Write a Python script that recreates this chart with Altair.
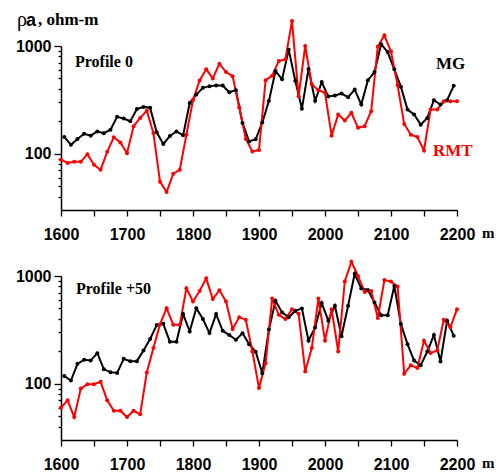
import altair as alt
import pandas as pd

# sample positions (m)
x_mg = list(range(1605, 2200, 10))
x_rmt = list(range(1600, 2201, 10))

# Profile 0
top_mg = [143, 121, 137, 153, 147, 161, 155, 167, 220, 212,
          200, 260, 272, 267, 158, 123, 146, 161, 148, 296,
          354, 409, 424, 430, 430, 372, 389, 193, 130, 136,
          195, 308, 585, 490, 925, 475, 262, 610, 310, 462,
          340, 347, 362, 335, 394, 286, 482, 573, 1040, 879,
          607, 419, 257, 231, 186, 215, 314, 286, 314, 427]
top_rmt = [88, 82, 84, 84, 99, 79, 71, 104, 142, 127,
           101, 180, 215, 251, 156, 55, 44, 65, 71, 150,
           315, 478, 607, 500, 685, 573, 525, 270, 137, 105,
           108, 482, 530, 725, 755, 1711, 342, 1000, 440, 389,
           368, 147, 231, 203, 240, 174, 180, 248, 987, 1258,
           887, 431, 189, 150, 143, 107, 257, 257, 307, 307, 307]

# Profile +50
bot_mg = [118, 107, 153, 167, 164, 192, 136, 128, 126, 170,
          162, 162, 203, 260, 350, 360, 245, 245, 443, 306,
          503, 398, 295, 443, 310, 283, 256, 294, 233, 198,
          125, 318, 589, 459, 413, 475, 500, 251, 333, 560,
          385, 529, 276, 529, 1050, 766, 742, 567, 433, 433,
          807, 358, 233, 164, 148, 199, 283, 161, 385, 279]
bot_rmt = [60, 70, 49, 90, 99, 99, 104, 70, 56, 56,
           49, 56, 52, 127, 215, 355, 503, 353, 353, 769,
           580, 726, 951, 610, 738, 580, 322, 413, 393, 199,
           91, 155, 617, 436, 398, 490, 447, 130, 215, 617,
           251, 490, 199, 891, 1355, 1000, 711, 727, 408, 918,
           887, 798, 124, 148, 140, 251, 193, 203, 393, 334, 492]

series = ["MG", "RMT"]
colors = ["#000000", "#ff0000"]
x_ticks = list(range(1600, 2201, 50))
y_ticks = [40, 50, 60, 70, 80, 90, 100, 200, 300, 400, 500, 600, 700, 800, 900, 1000]

W, H = 396, 164

xaxis = alt.Axis(values=x_ticks, labelExpr="datum.value % 100 == 0 ? '' + datum.value : ''",
                 tickSize=6, labelPadding=10, labelFont="Liberation Sans", labelFontWeight="bold",
                 labelFontSize=16, labelColor="black", labelOverlap=False, labelFlush=False,
                 domainColor="black", tickColor="black", domainWidth=1.5, tickWidth=1.3,
                 title=None, grid=False)
yaxis = alt.Axis(values=y_ticks,
                 labelExpr="datum.value == 100 || datum.value == 1000 ? '' + datum.value : ''",
                 tickSize={"condition": {"test": "datum.value == 100 || datum.value == 1000", "value": 7}, "value": 3},
                 labelPadding=3, labelFont="Liberation Sans", labelFontWeight="bold",
                 labelFontSize=16, labelColor="black", labelOverlap=False, labelFlush=False,
                 domainColor="black", tickColor="black", domainWidth=1.5, tickWidth=1.3,
                 title=None, grid=False)


def txt(s, x, y, size, color="black", font="Liberation Serif", weight="bold"):
    return alt.Chart(pd.DataFrame({"t": [s]})).mark_text(
        align="left", baseline="alphabetic", font=font, fontSize=size,
        fontWeight=weight, color=color).encode(text="t:N", x=alt.value(x), y=alt.value(y))


def panel(mg, rmt, extra):
    df = pd.concat([
        pd.DataFrame({"x": x_mg, "v": mg, "s": series[0]}),
        pd.DataFrame({"x": x_rmt, "v": rmt, "s": series[1]}),
    ])
    base = alt.Chart(df).encode(
        x=alt.X("x:Q", scale=alt.Scale(domain=[1600, 2200], nice=False, zero=False), axis=xaxis),
        y=alt.Y("v:Q", scale=alt.Scale(type="log", domain=[30, 1000], nice=False), axis=yaxis),
        color=alt.Color("s:N", scale=alt.Scale(domain=series, range=colors), legend=None),
    )
    lines = base.mark_line(strokeWidth=2)
    pts = base.mark_point(filled=True, size=16, opacity=1, shape="circle")
    m = txt("m", 421, H + 28, 15)
    return alt.layer(lines, pts, m, *extra).properties(width=W, height=H)


top = panel(top_mg, top_rmt, [
    txt("Profile 0", 14, 21, 16),
    txt("MG", 375, 23, 17),
    txt("RMT", 372, 110, 17, color="#ff0000"),
    txt("ρ", -44, -20, 20, font="Liberation Serif", weight="normal"),
    txt("a", -35, -20, 18, font="Liberation Sans"),
    txt(", ohm-m", -23, -21.5, 17),
])
bottom = panel(bot_mg, bot_rmt, [
    txt("Profile +50", 15, 18, 16),
])

chart = alt.vconcat(top, bottom, spacing=66, bounds="flush").properties(
    padding={"left": 7, "top": 2, "right": 0, "bottom": 0}
).configure_view(stroke=None)

chart.save("out.html", embed_options={"renderer": "svg", "actions": False})
